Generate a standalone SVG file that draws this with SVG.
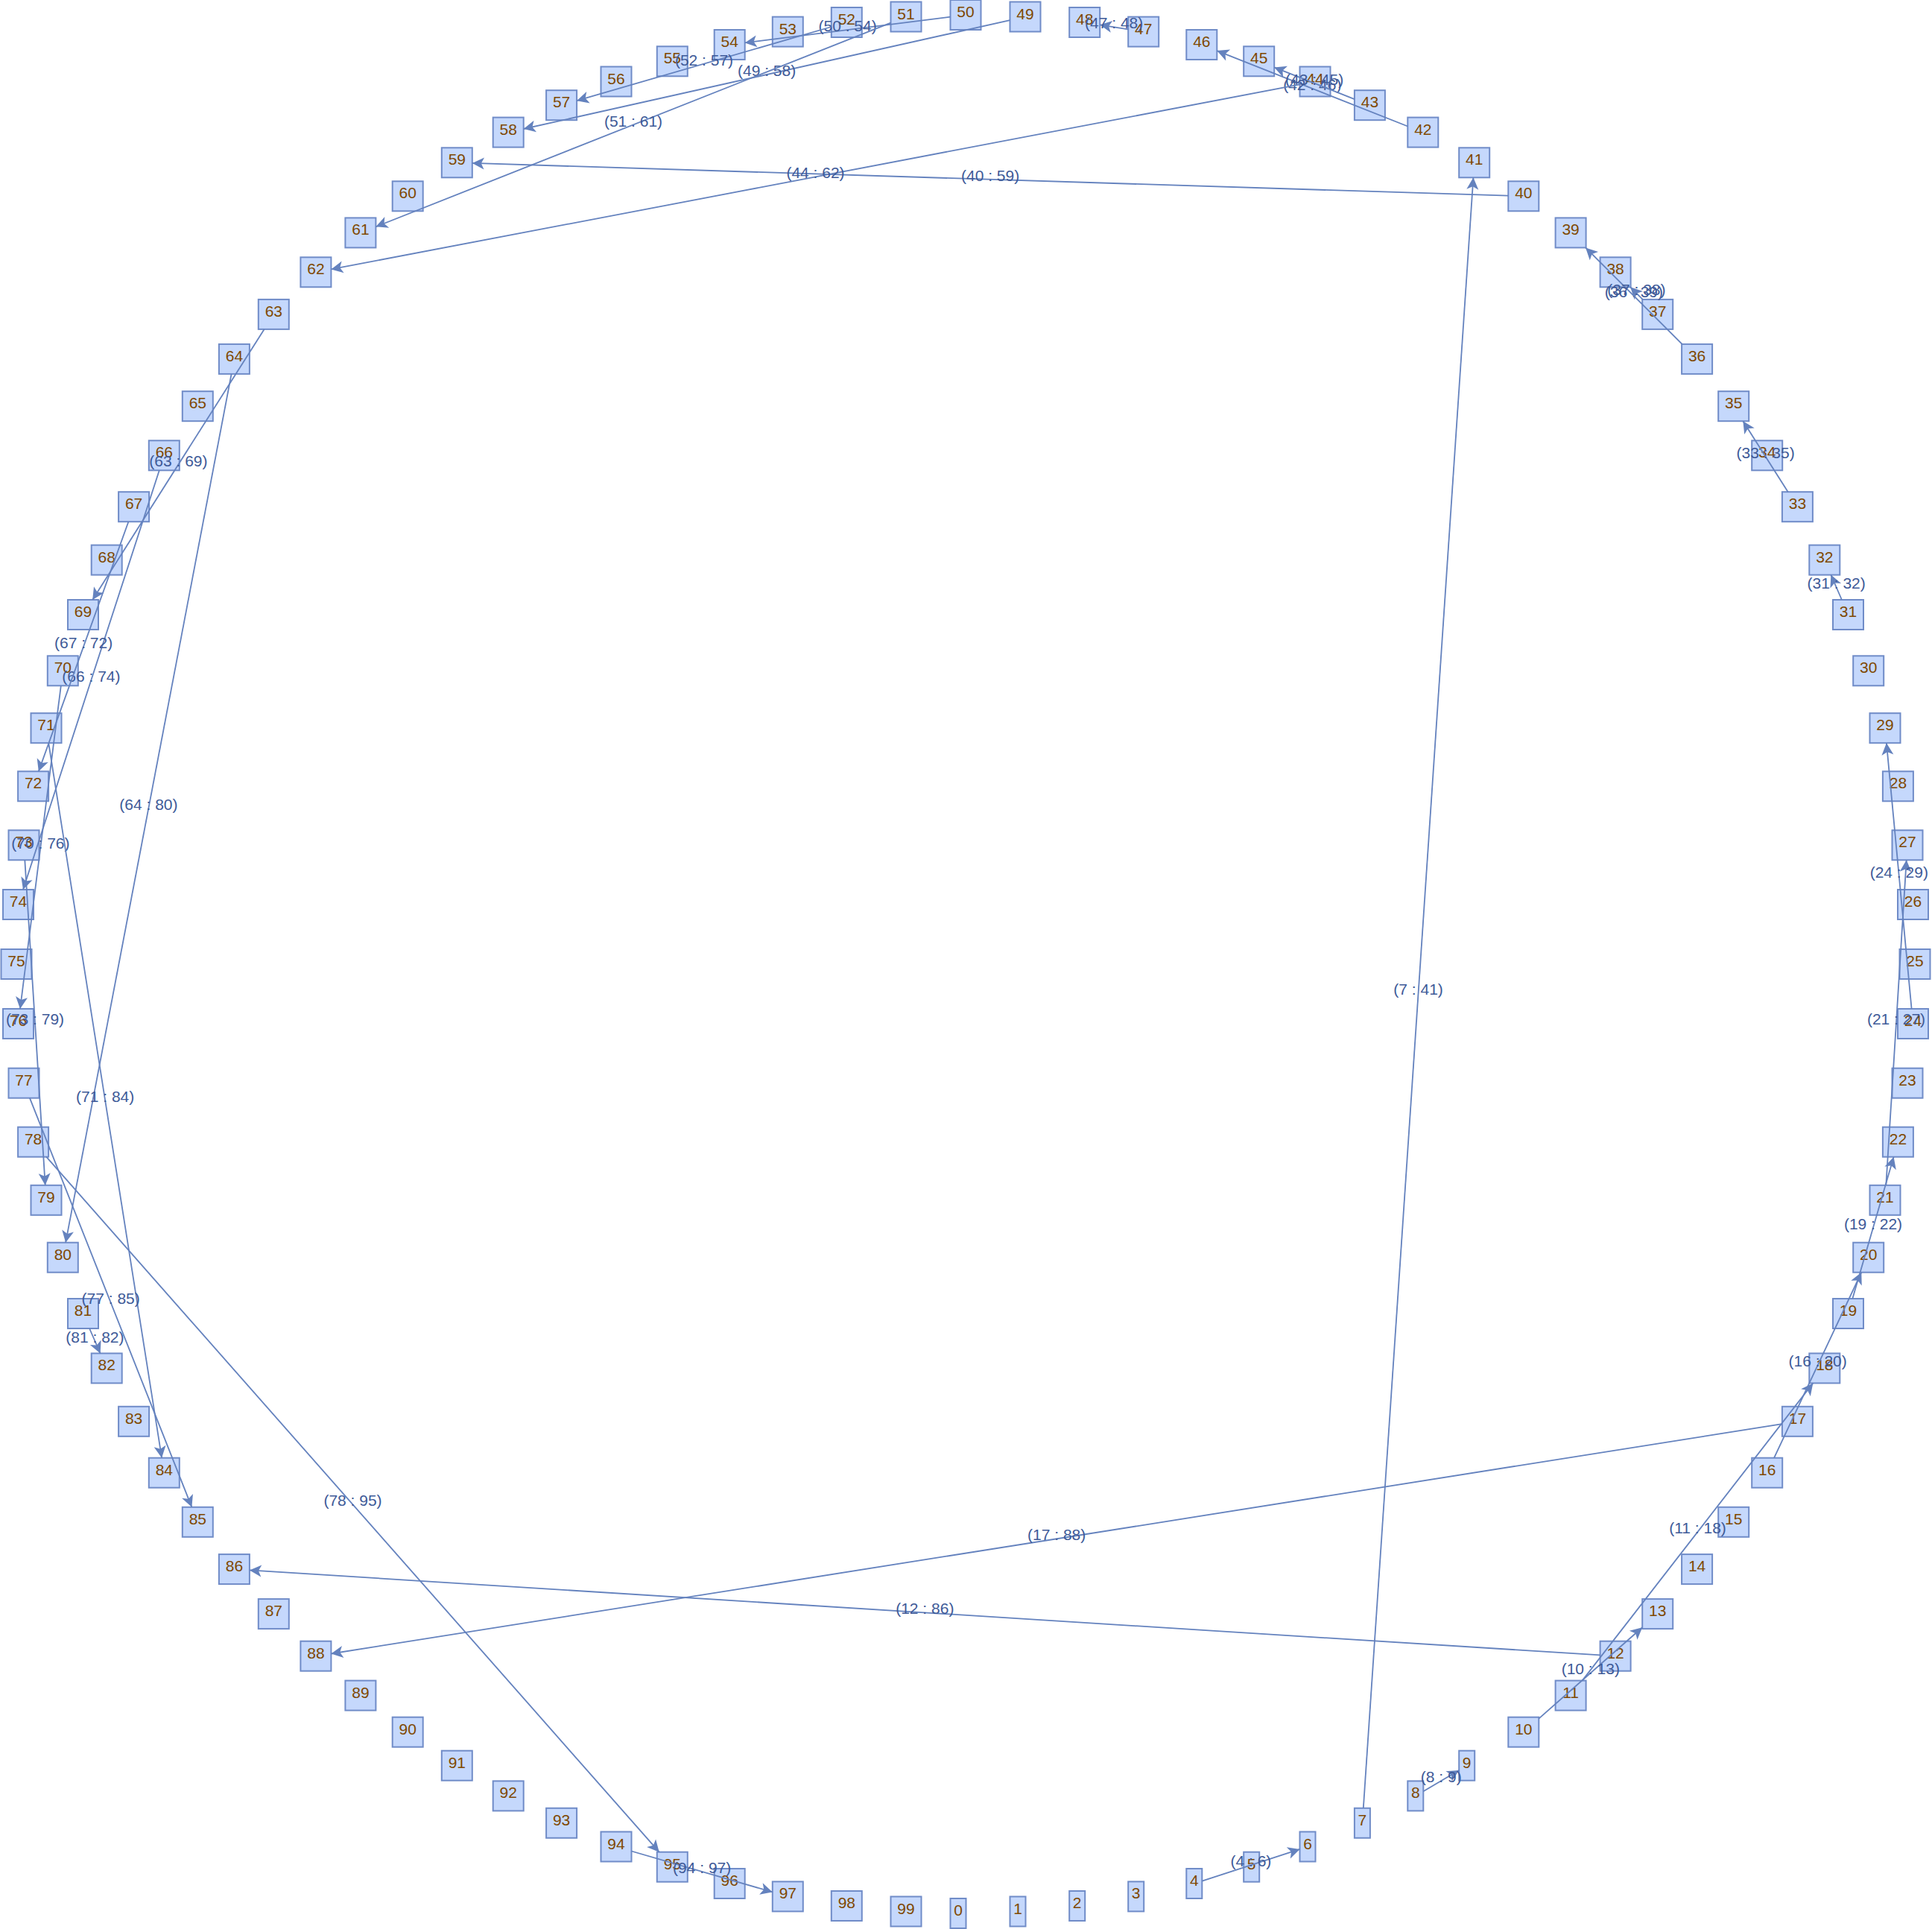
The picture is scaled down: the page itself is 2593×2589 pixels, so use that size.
<svg xmlns="http://www.w3.org/2000/svg" width="2593" height="2589" viewBox="0 0 2593 2589">
<style>
.node rect{fill:#c5d8fc;stroke:#708cc8;stroke-width:2}
.node text{font-family:"Liberation Sans",Arial,sans-serif;font-size:21px;fill:#7f4800;text-anchor:middle}
.edge path{fill:none;stroke:#6482be;stroke-width:1.8;marker-end:url(#arr)}
.edge text{font-family:"Liberation Sans",Arial,sans-serif;font-size:21px;fill:#3e5a98;text-anchor:middle}
</style>
<defs>
<marker id="arr" viewBox="-17 -8.5 18 17" markerWidth="18" markerHeight="17" refX="0" refY="0" orient="auto" markerUnits="userSpaceOnUse">
<path d="M0,0 L-16,-8 L-12,0 L-16,8 Z" fill="#6482be"/>
</marker>
</defs>
<rect width="2593" height="2589" fill="#ffffff"/>
<g id="nodes">
<g id="n0" class="node" transform="translate(1296,2568)"><rect x="-20.5" y="-20" width="21" height="40"/><text x="-10" y="3">0</text></g>
<g id="n1" class="node" transform="translate(1376,2565.5)"><rect x="-20.5" y="-20" width="21" height="40"/><text x="-10" y="3">1</text></g>
<g id="n2" class="node" transform="translate(1455.7,2558)"><rect x="-20.5" y="-20" width="21" height="40"/><text x="-10" y="3">2</text></g>
<g id="n3" class="node" transform="translate(1534.7,2545.4)"><rect x="-20.5" y="-20" width="21" height="40"/><text x="-10" y="3">3</text></g>
<g id="n4" class="node" transform="translate(1612.8,2528)"><rect x="-20.5" y="-20" width="21" height="40"/><text x="-10" y="3">4</text></g>
<g id="n5" class="node" transform="translate(1689.7,2505.7)"><rect x="-20.5" y="-20" width="21" height="40"/><text x="-10" y="3">5</text></g>
<g id="n6" class="node" transform="translate(1765,2478.5)"><rect x="-20.5" y="-20" width="21" height="40"/><text x="-10" y="3">6</text></g>
<g id="n7" class="node" transform="translate(1838.4,2446.8)"><rect x="-20.5" y="-20" width="21" height="40"/><text x="-10" y="3">7</text></g>
<g id="n8" class="node" transform="translate(1909.8,2410.4)"><rect x="-20.5" y="-20" width="21" height="40"/><text x="-10" y="3">8</text></g>
<g id="n9" class="node" transform="translate(1978.7,2369.7)"><rect x="-20.5" y="-20" width="21" height="40"/><text x="-10" y="3">9</text></g>
<g id="n10" class="node" transform="translate(2044.8,2324.7)"><rect x="-20.5" y="-20" width="41" height="40"/><text y="3">10</text></g>
<g id="n11" class="node" transform="translate(2108.1,2275.6)"><rect x="-20.5" y="-20" width="41" height="40"/><text y="3">11</text></g>
<g id="n12" class="node" transform="translate(2168.1,2222.7)"><rect x="-20.5" y="-20" width="41" height="40"/><text y="3">12</text></g>
<g id="n13" class="node" transform="translate(2224.7,2166.1)"><rect x="-20.5" y="-20" width="41" height="40"/><text y="3">13</text></g>
<g id="n14" class="node" transform="translate(2277.6,2106.1)"><rect x="-20.5" y="-20" width="41" height="40"/><text y="3">14</text></g>
<g id="n15" class="node" transform="translate(2326.7,2042.8)"><rect x="-20.5" y="-20" width="41" height="40"/><text y="3">15</text></g>
<g id="n16" class="node" transform="translate(2371.7,1976.7)"><rect x="-20.5" y="-20" width="41" height="40"/><text y="3">16</text></g>
<g id="n17" class="node" transform="translate(2412.4,1907.8)"><rect x="-20.5" y="-20" width="41" height="40"/><text y="3">17</text></g>
<g id="n18" class="node" transform="translate(2448.8,1836.4)"><rect x="-20.5" y="-20" width="41" height="40"/><text y="3">18</text></g>
<g id="n19" class="node" transform="translate(2480.5,1763)"><rect x="-20.5" y="-20" width="41" height="40"/><text y="3">19</text></g>
<g id="n20" class="node" transform="translate(2507.7,1687.7)"><rect x="-20.5" y="-20" width="41" height="40"/><text y="3">20</text></g>
<g id="n21" class="node" transform="translate(2530,1610.8)"><rect x="-20.5" y="-20" width="41" height="40"/><text y="3">21</text></g>
<g id="n22" class="node" transform="translate(2547.4,1532.7)"><rect x="-20.5" y="-20" width="41" height="40"/><text y="3">22</text></g>
<g id="n23" class="node" transform="translate(2560,1453.7)"><rect x="-20.5" y="-20" width="41" height="40"/><text y="3">23</text></g>
<g id="n24" class="node" transform="translate(2567.5,1374)"><rect x="-20.5" y="-20" width="41" height="40"/><text y="3">24</text></g>
<g id="n25" class="node" transform="translate(2570,1294)"><rect x="-20.5" y="-20" width="41" height="40"/><text y="3">25</text></g>
<g id="n26" class="node" transform="translate(2567.5,1214)"><rect x="-20.5" y="-20" width="41" height="40"/><text y="3">26</text></g>
<g id="n27" class="node" transform="translate(2560,1134.3)"><rect x="-20.5" y="-20" width="41" height="40"/><text y="3">27</text></g>
<g id="n28" class="node" transform="translate(2547.4,1055.3)"><rect x="-20.5" y="-20" width="41" height="40"/><text y="3">28</text></g>
<g id="n29" class="node" transform="translate(2530,977.2)"><rect x="-20.5" y="-20" width="41" height="40"/><text y="3">29</text></g>
<g id="n30" class="node" transform="translate(2507.7,900.3)"><rect x="-20.5" y="-20" width="41" height="40"/><text y="3">30</text></g>
<g id="n31" class="node" transform="translate(2480.5,825)"><rect x="-20.5" y="-20" width="41" height="40"/><text y="3">31</text></g>
<g id="n32" class="node" transform="translate(2448.8,751.6)"><rect x="-20.5" y="-20" width="41" height="40"/><text y="3">32</text></g>
<g id="n33" class="node" transform="translate(2412.4,680.2)"><rect x="-20.5" y="-20" width="41" height="40"/><text y="3">33</text></g>
<g id="n34" class="node" transform="translate(2371.7,611.3)"><rect x="-20.5" y="-20" width="41" height="40"/><text y="3">34</text></g>
<g id="n35" class="node" transform="translate(2326.7,545.2)"><rect x="-20.5" y="-20" width="41" height="40"/><text y="3">35</text></g>
<g id="n36" class="node" transform="translate(2277.6,481.9)"><rect x="-20.5" y="-20" width="41" height="40"/><text y="3">36</text></g>
<g id="n37" class="node" transform="translate(2224.7,421.9)"><rect x="-20.5" y="-20" width="41" height="40"/><text y="3">37</text></g>
<g id="n38" class="node" transform="translate(2168.1,365.3)"><rect x="-20.5" y="-20" width="41" height="40"/><text y="3">38</text></g>
<g id="n39" class="node" transform="translate(2108.1,312.4)"><rect x="-20.5" y="-20" width="41" height="40"/><text y="3">39</text></g>
<g id="n40" class="node" transform="translate(2044.8,263.3)"><rect x="-20.5" y="-20" width="41" height="40"/><text y="3">40</text></g>
<g id="n41" class="node" transform="translate(1978.7,218.3)"><rect x="-20.5" y="-20" width="41" height="40"/><text y="3">41</text></g>
<g id="n42" class="node" transform="translate(1909.8,177.6)"><rect x="-20.5" y="-20" width="41" height="40"/><text y="3">42</text></g>
<g id="n43" class="node" transform="translate(1838.4,141.2)"><rect x="-20.5" y="-20" width="41" height="40"/><text y="3">43</text></g>
<g id="n44" class="node" transform="translate(1765,109.5)"><rect x="-20.5" y="-20" width="41" height="40"/><text y="3">44</text></g>
<g id="n45" class="node" transform="translate(1689.7,82.3)"><rect x="-20.5" y="-20" width="41" height="40"/><text y="3">45</text></g>
<g id="n46" class="node" transform="translate(1612.8,60)"><rect x="-20.5" y="-20" width="41" height="40"/><text y="3">46</text></g>
<g id="n47" class="node" transform="translate(1534.7,42.6)"><rect x="-20.5" y="-20" width="41" height="40"/><text y="3">47</text></g>
<g id="n48" class="node" transform="translate(1455.7,30)"><rect x="-20.5" y="-20" width="41" height="40"/><text y="3">48</text></g>
<g id="n49" class="node" transform="translate(1376,22.5)"><rect x="-20.5" y="-20" width="41" height="40"/><text y="3">49</text></g>
<g id="n50" class="node" transform="translate(1296,20)"><rect x="-20.5" y="-20" width="41" height="40"/><text y="3">50</text></g>
<g id="n51" class="node" transform="translate(1216,22.5)"><rect x="-20.5" y="-20" width="41" height="40"/><text y="3">51</text></g>
<g id="n52" class="node" transform="translate(1136.3,30)"><rect x="-20.5" y="-20" width="41" height="40"/><text y="3">52</text></g>
<g id="n53" class="node" transform="translate(1057.3,42.6)"><rect x="-20.5" y="-20" width="41" height="40"/><text y="3">53</text></g>
<g id="n54" class="node" transform="translate(979.2,60)"><rect x="-20.5" y="-20" width="41" height="40"/><text y="3">54</text></g>
<g id="n55" class="node" transform="translate(902.3,82.3)"><rect x="-20.5" y="-20" width="41" height="40"/><text y="3">55</text></g>
<g id="n56" class="node" transform="translate(827,109.5)"><rect x="-20.5" y="-20" width="41" height="40"/><text y="3">56</text></g>
<g id="n57" class="node" transform="translate(753.6,141.2)"><rect x="-20.5" y="-20" width="41" height="40"/><text y="3">57</text></g>
<g id="n58" class="node" transform="translate(682.2,177.6)"><rect x="-20.5" y="-20" width="41" height="40"/><text y="3">58</text></g>
<g id="n59" class="node" transform="translate(613.3,218.3)"><rect x="-20.5" y="-20" width="41" height="40"/><text y="3">59</text></g>
<g id="n60" class="node" transform="translate(547.2,263.3)"><rect x="-20.5" y="-20" width="41" height="40"/><text y="3">60</text></g>
<g id="n61" class="node" transform="translate(483.9,312.4)"><rect x="-20.5" y="-20" width="41" height="40"/><text y="3">61</text></g>
<g id="n62" class="node" transform="translate(423.9,365.3)"><rect x="-20.5" y="-20" width="41" height="40"/><text y="3">62</text></g>
<g id="n63" class="node" transform="translate(367.3,421.9)"><rect x="-20.5" y="-20" width="41" height="40"/><text y="3">63</text></g>
<g id="n64" class="node" transform="translate(314.4,481.9)"><rect x="-20.5" y="-20" width="41" height="40"/><text y="3">64</text></g>
<g id="n65" class="node" transform="translate(265.3,545.2)"><rect x="-20.5" y="-20" width="41" height="40"/><text y="3">65</text></g>
<g id="n66" class="node" transform="translate(220.3,611.3)"><rect x="-20.5" y="-20" width="41" height="40"/><text y="3">66</text></g>
<g id="n67" class="node" transform="translate(179.6,680.2)"><rect x="-20.5" y="-20" width="41" height="40"/><text y="3">67</text></g>
<g id="n68" class="node" transform="translate(143.2,751.6)"><rect x="-20.5" y="-20" width="41" height="40"/><text y="3">68</text></g>
<g id="n69" class="node" transform="translate(111.5,825)"><rect x="-20.5" y="-20" width="41" height="40"/><text y="3">69</text></g>
<g id="n70" class="node" transform="translate(84.3,900.3)"><rect x="-20.5" y="-20" width="41" height="40"/><text y="3">70</text></g>
<g id="n71" class="node" transform="translate(62,977.2)"><rect x="-20.5" y="-20" width="41" height="40"/><text y="3">71</text></g>
<g id="n72" class="node" transform="translate(44.6,1055.3)"><rect x="-20.5" y="-20" width="41" height="40"/><text y="3">72</text></g>
<g id="n73" class="node" transform="translate(32,1134.3)"><rect x="-20.5" y="-20" width="41" height="40"/><text y="3">73</text></g>
<g id="n74" class="node" transform="translate(24.5,1214)"><rect x="-20.5" y="-20" width="41" height="40"/><text y="3">74</text></g>
<g id="n75" class="node" transform="translate(22,1294)"><rect x="-20.5" y="-20" width="41" height="40"/><text y="3">75</text></g>
<g id="n76" class="node" transform="translate(24.5,1374)"><rect x="-20.5" y="-20" width="41" height="40"/><text y="3">76</text></g>
<g id="n77" class="node" transform="translate(32,1453.7)"><rect x="-20.5" y="-20" width="41" height="40"/><text y="3">77</text></g>
<g id="n78" class="node" transform="translate(44.6,1532.7)"><rect x="-20.5" y="-20" width="41" height="40"/><text y="3">78</text></g>
<g id="n79" class="node" transform="translate(62,1610.8)"><rect x="-20.5" y="-20" width="41" height="40"/><text y="3">79</text></g>
<g id="n80" class="node" transform="translate(84.3,1687.7)"><rect x="-20.5" y="-20" width="41" height="40"/><text y="3">80</text></g>
<g id="n81" class="node" transform="translate(111.5,1763)"><rect x="-20.5" y="-20" width="41" height="40"/><text y="3">81</text></g>
<g id="n82" class="node" transform="translate(143.2,1836.4)"><rect x="-20.5" y="-20" width="41" height="40"/><text y="3">82</text></g>
<g id="n83" class="node" transform="translate(179.6,1907.8)"><rect x="-20.5" y="-20" width="41" height="40"/><text y="3">83</text></g>
<g id="n84" class="node" transform="translate(220.3,1976.7)"><rect x="-20.5" y="-20" width="41" height="40"/><text y="3">84</text></g>
<g id="n85" class="node" transform="translate(265.3,2042.8)"><rect x="-20.5" y="-20" width="41" height="40"/><text y="3">85</text></g>
<g id="n86" class="node" transform="translate(314.4,2106.1)"><rect x="-20.5" y="-20" width="41" height="40"/><text y="3">86</text></g>
<g id="n87" class="node" transform="translate(367.3,2166.1)"><rect x="-20.5" y="-20" width="41" height="40"/><text y="3">87</text></g>
<g id="n88" class="node" transform="translate(423.9,2222.7)"><rect x="-20.5" y="-20" width="41" height="40"/><text y="3">88</text></g>
<g id="n89" class="node" transform="translate(483.9,2275.6)"><rect x="-20.5" y="-20" width="41" height="40"/><text y="3">89</text></g>
<g id="n90" class="node" transform="translate(547.2,2324.7)"><rect x="-20.5" y="-20" width="41" height="40"/><text y="3">90</text></g>
<g id="n91" class="node" transform="translate(613.3,2369.7)"><rect x="-20.5" y="-20" width="41" height="40"/><text y="3">91</text></g>
<g id="n92" class="node" transform="translate(682.2,2410.4)"><rect x="-20.5" y="-20" width="41" height="40"/><text y="3">92</text></g>
<g id="n93" class="node" transform="translate(753.6,2446.8)"><rect x="-20.5" y="-20" width="41" height="40"/><text y="3">93</text></g>
<g id="n94" class="node" transform="translate(827,2478.5)"><rect x="-20.5" y="-20" width="41" height="40"/><text y="3">94</text></g>
<g id="n95" class="node" transform="translate(902.3,2505.7)"><rect x="-20.5" y="-20" width="41" height="40"/><text y="3">95</text></g>
<g id="n96" class="node" transform="translate(979.2,2528)"><rect x="-20.5" y="-20" width="41" height="40"/><text y="3">96</text></g>
<g id="n97" class="node" transform="translate(1057.3,2545.4)"><rect x="-20.5" y="-20" width="41" height="40"/><text y="3">97</text></g>
<g id="n98" class="node" transform="translate(1136.3,2558)"><rect x="-20.5" y="-20" width="41" height="40"/><text y="3">98</text></g>
<g id="n99" class="node" transform="translate(1216,2565.5)"><rect x="-20.5" y="-20" width="41" height="40"/><text y="3">99</text></g>
</g>
<g id="connectors">
<g id="e4-6" class="edge"><path d="M1613.3,2524.6 L1744.5,2481.9"/><text x="1678.9" y="2505.3">(4 : 6)</text></g>
<g id="e7-41" class="edge"><path d="M1829.8,2426.8 L1977.4,238.3"/><text x="1903.6" y="1334.6">(7 : 41)</text></g>
<g id="e8-9" class="edge"><path d="M1910.3,2404.2 L1958.2,2375.9"/><text x="1934.3" y="2392.1">(8 : 9)</text></g>
<g id="e10-13" class="edge"><path d="M2065.3,2306.6 L2204.2,2184.2"/><text x="2134.8" y="2247.4">(10 : 13)</text></g>
<g id="e11-18" class="edge"><path d="M2123.6,2255.6 L2433.3,1856.4"/><text x="2278.5" y="2058">(11 : 18)</text></g>
<g id="e12-86" class="edge"><path d="M2147.6,2221.4 L334.9,2107.4"/><text x="1241.3" y="2166.4">(12 : 86)</text></g>
<g id="e16-20" class="edge"><path d="M2381.1,1956.7 L2498.3,1707.7"/><text x="2439.7" y="1834.2">(16 : 20)</text></g>
<g id="e17-88" class="edge"><path d="M2391.9,1911.1 L444.4,2219.5"/><text x="1418.2" y="2067.3">(17 : 88)</text></g>
<g id="e19-22" class="edge"><path d="M2486.3,1743 L2541.6,1552.7"/><text x="2514" y="1649.9">(19 : 22)</text></g>
<g id="e21-27" class="edge"><path d="M2531.3,1590.8 L2558.7,1154.3"/><text x="2545" y="1374.6">(21 : 27)</text></g>
<g id="e24-29" class="edge"><path d="M2565.6,1354 L2531.9,997.2"/><text x="2548.8" y="1177.6">(24 : 29)</text></g>
<g id="e31-32" class="edge"><path d="M2471.9,805 L2457.4,771.6"/><text x="2464.7" y="790.3">(31 : 32)</text></g>
<g id="e33-35" class="edge"><path d="M2399.7,660.2 L2339.4,565.2"/><text x="2369.6" y="614.7">(33 : 35)</text></g>
<g id="e36-39" class="edge"><path d="M2257.6,461.9 L2128.1,332.4"/><text x="2192.9" y="399.2">(36 : 39)</text></g>
<g id="e37-38" class="edge"><path d="M2204.7,401.9 L2188.1,385.3"/><text x="2196.4" y="395.6">(37 : 38)</text></g>
<g id="e40-59" class="edge"><path d="M2024.3,262.7 L633.8,218.9"/><text x="1329.1" y="242.8">(40 : 59)</text></g>
<g id="e42-46" class="edge"><path d="M1889.3,169.5 L1633.3,68.1"/><text x="1761.3" y="120.8">(42 : 46)</text></g>
<g id="e43-45" class="edge"><path d="M1817.9,133.1 L1710.2,90.4"/><text x="1764.1" y="113.8">(43 : 45)</text></g>
<g id="e44-62" class="edge"><path d="M1744.5,113.4 L444.4,361.4"/><text x="1094.5" y="239.4">(44 : 62)</text></g>
<g id="e47-48" class="edge"><path d="M1514.2,39.3 L1476.2,33.3"/><text x="1495.2" y="38.3">(47 : 48)</text></g>
<g id="e49-58" class="edge"><path d="M1355.5,27.1 L702.7,173"/><text x="1029.1" y="102.1">(49 : 58)</text></g>
<g id="e50-54" class="edge"><path d="M1275.5,22.6 L999.7,57.4"/><text x="1137.6" y="42">(50 : 54)</text></g>
<g id="e51-61" class="edge"><path d="M1195.5,30.6 L504.4,304.3"/><text x="850" y="169.5">(51 : 61)</text></g>
<g id="e52-57" class="edge"><path d="M1115.8,36 L774.1,135.2"/><text x="945" y="87.6">(52 : 57)</text></g>
<g id="e63-69" class="edge"><path d="M354.6,441.9 L124.2,805"/><text x="239.4" y="625.5">(63 : 69)</text></g>
<g id="e64-80" class="edge"><path d="M310.6,501.9 L88.1,1667.7"/><text x="199.4" y="1086.8">(64 : 80)</text></g>
<g id="e66-74" class="edge"><path d="M213.8,631.3 L31,1194"/><text x="122.4" y="914.7">(66 : 74)</text></g>
<g id="e67-72" class="edge"><path d="M172.4,700.2 L51.8,1035.3"/><text x="112.1" y="869.8">(67 : 72)</text></g>
<g id="e70-76" class="edge"><path d="M81.8,920.3 L27,1354"/><text x="54.4" y="1139.2">(70 : 76)</text></g>
<g id="e71-84" class="edge"><path d="M65.2,997.2 L217.1,1956.7"/><text x="141.2" y="1479">(71 : 84)</text></g>
<g id="e73-79" class="edge"><path d="M33.3,1154.3 L60.7,1590.8"/><text x="47" y="1374.6">(73 : 79)</text></g>
<g id="e77-85" class="edge"><path d="M39.9,1473.7 L257.4,2022.8"/><text x="148.7" y="1750.3">(77 : 85)</text></g>
<g id="e78-95" class="edge"><path d="M62.2,1552.7 L884.7,2485.7"/><text x="473.5" y="2021.2">(78 : 95)</text></g>
<g id="e81-82" class="edge"><path d="M120.1,1783 L134.6,1816.4"/><text x="127.4" y="1801.7">(81 : 82)</text></g>
<g id="e94-97" class="edge"><path d="M847.5,2484.5 L1036.8,2539.4"/><text x="942.2" y="2514">(94 : 97)</text></g>
</g>
</svg>
